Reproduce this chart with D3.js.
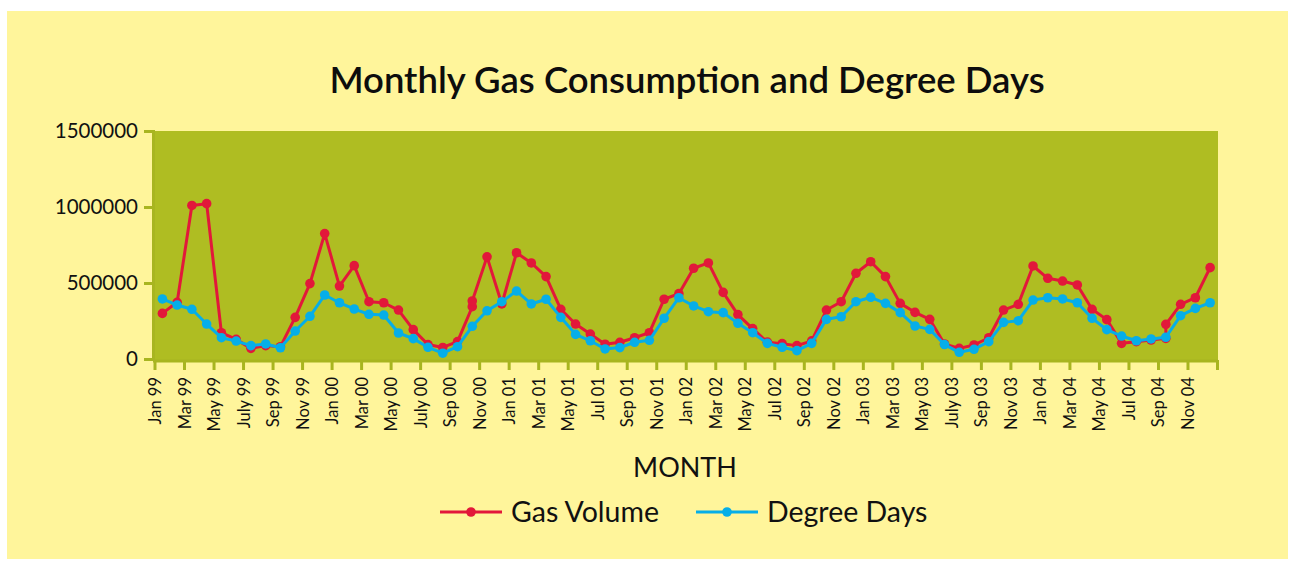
<!DOCTYPE html>
<html>
<head>
<meta charset="utf-8">
<script src="https://cdn.jsdelivr.net/npm/d3@7"></script>
<style>
  body { margin: 0; background: #fff; }
  svg { display: block; }
</style>
</head>
<body>
<svg id="chart" width="1290" height="561"></svg>
<script>
// months on the category axis (Jan 99 .. Dec 04)
var months = [
  "Jan 99","Feb 99","Mar 99","Apr 99","May 99","Jun 99","Jul 99","Aug 99","Sep 99","Oct 99","Nov 99","Dec 99",
  "Jan 00","Feb 00","Mar 00","Apr 00","May 00","Jun 00","Jul 00","Aug 00","Sep 00","Oct 00","Nov 00","Dec 00",
  "Jan 01","Feb 01","Mar 01","Apr 01","May 01","Jun 01","Jul 01","Aug 01","Sep 01","Oct 01","Nov 01","Dec 01",
  "Jan 02","Feb 02","Mar 02","Apr 02","May 02","Jun 02","Jul 02","Aug 02","Sep 02","Oct 02","Nov 02","Dec 02",
  "Jan 03","Feb 03","Mar 03","Apr 03","May 03","Jun 03","Jul 03","Aug 03","Sep 03","Oct 03","Nov 03","Dec 03",
  "Jan 04","Feb 04","Mar 04","Apr 04","May 04","Jun 04","Jul 04","Aug 04","Sep 04","Oct 04","Nov 04","Dec 04"
];

// labels shown under the axis, one every second month
var tickLabels = [
  "Jan 99","Mar 99","May 99","July 99","Sep 99","Nov 99",
  "Jan 00","Mar 00","May 00","July 00","Sep 00","Nov 00",
  "Jan 01","Mar 01","May 01","Jul 01","Sep 01","Nov 01",
  "Jan 02","Mar 02","May 02","Jul 02","Sep 02","Nov 02",
  "Jan 03","Mar 03","May 03","July 03","Sep 03","Nov 03",
  "Jan 04","Mar 04","May 04","Jul 04","Sep 04","Nov 04"
];

// gas volume per month; a pair means two readings were logged that month
var gasVolume = [
  300000, 373000, 1010000, 1022000, 173000, 129000, 70000, 88000, 81000, 274000, 496000, 825000,
  480000, 614000, 377000, 370000, 322000, 193000, 95000, 76000, 114000, [344000, 382000], 672000, 362000,
  699000, 632000, 542000, 327000, 230000, 164000, 97000, 110000, 140000, 173000, 393000, 430000,
  597000, 632000, 438000, 292000, 200000, 111000, 101000, 88000, 119000, 322000, 377000, 564000,
  640000, 542000, 366000, 307000, 261000, 99000, 70000, 92000, 140000, 322000, 360000, 612000,
  531000, 513000, 487000, 327000, 259000, 103000, 114000, 125000, [136000, 228000], 360000, 403000, 601000
];

var degreeDays = [
  395000, 355000, 327000, 230000, 140000, 118000, 88000, 99000, 74000, 184000, 281000, 421000,
  370000, 329000, 294000, 289000, 171000, 134000, 77000, 38000, 81000, 215000, 317000, 377000,
  447000, 362000, 393000, 274000, 162000, 120000, 66000, 75000, 110000, 123000, 268000, 403000,
  349000, 311000, 305000, 235000, 173000, 103000, 77000, 55000, 103000, 261000, 278000, 377000,
  406000, 366000, 305000, 217000, 195000, 95000, 44000, 64000, 114000, 241000, 252000, 388000,
  403000, 395000, 370000, 268000, 193000, 151000, 120000, 132000, 143000, 285000, 333000, 370000
];

var yTicks = [0, 500000, 1000000, 1500000];

var RED = "#e2183a", BLUE = "#06aee8", GREEN = "#afbd22", PANEL = "#fff59b", AXIS = "#a8b520";
var FONT = "Lato, sans-serif";

var svg = d3.select("#chart");

svg.append("rect")
    .attr("x", 7).attr("y", 11)
    .attr("width", 1281).attr("height", 548)
    .attr("fill", PANEL);

var plot = { left: 153, right: 1218, top: 131, bottom: 360 };

var x = d3.scaleBand()
    .domain(months)
    .range([155, 1217.5])
    .padding(0);

var y = d3.scaleLinear()
    .domain([0, 1500000])
    .range([359, plot.top]);

function cx(m) { return x(m) + x.bandwidth() / 2; }

// plot background
svg.append("rect")
    .attr("x", plot.left).attr("y", plot.top)
    .attr("width", plot.right - plot.left)
    .attr("height", plot.bottom - plot.top)
    .attr("fill", GREEN);

// title
svg.append("text")
    .attr("x", 687).attr("y", 93)
    .attr("text-anchor", "middle")
    .style("font-family", FONT)
    .style("font-weight", "600")
    .style("font-size", "36.5px")
    .attr("fill", "#0d0d0d")
    .text("Monthly Gas Consumption and Degree Days");

// y axis
var yAxis = d3.axisLeft(y)
    .tickValues(yTicks)
    .tickFormat(d3.format("d"))
    .tickSize(9)
    .tickPadding(6);

var gy = svg.append("g")
    .attr("transform", "translate(" + plot.left + ",0)")
    .call(yAxis);
gy.select(".domain").attr("stroke", AXIS).attr("stroke-width", 3);
gy.selectAll(".tick line").attr("stroke", AXIS).attr("stroke-width", 3);
gy.selectAll(".tick text")
    .style("font-family", FONT)
    .style("font-size", "20.5px")
    .attr("fill", "#111");

// x axis: ticks at the start of every second month, labels under them
var tickMonths = months.filter(function(d, i) { return i % 2 === 0; });
var gx = svg.append("g");
gx.append("line")
    .attr("x1", plot.left).attr("x2", plot.right)
    .attr("y1", plot.bottom + 1).attr("y2", plot.bottom + 1)
    .attr("stroke", AXIS).attr("stroke-width", 3);
gx.selectAll("line.tick")
    .data(tickMonths.concat(["end"]))
    .enter().append("line")
    .attr("class", "tick")
    .attr("x1", function(d) { return d === "end" ? x.range()[1] : x(d); })
    .attr("x2", function(d) { return d === "end" ? x.range()[1] : x(d); })
    .attr("y1", plot.bottom).attr("y2", plot.bottom + 10)
    .attr("stroke", AXIS).attr("stroke-width", 3);
gx.selectAll("text")
    .data(tickMonths)
    .enter().append("text")
    .attr("transform", function(d) { return "translate(" + (x(d) + 6) + ",377) rotate(-90)"; })
    .attr("text-anchor", "end")
    .style("font-family", FONT)
    .style("font-size", "16.5px")
    .attr("fill", "#111")
    .text(function(d, i) { return tickLabels[i]; });

// axis title
svg.append("text")
    .attr("x", 685).attr("y", 477)
    .attr("text-anchor", "middle")
    .style("font-family", FONT)
    .style("font-size", "27px")
    .attr("fill", "#111")
    .text("MONTH");

// flatten gas readings into points (months with two readings get two points)
var gasPoints = [];
gasVolume.forEach(function(v, i) {
    [].concat(v).forEach(function(val) { gasPoints.push([months[i], val]); });
});
var ddPoints = degreeDays.map(function(v, i) { return [months[i], v]; });

var line = d3.line()
    .x(function(d) { return cx(d[0]); })
    .y(function(d) { return y(d[1]); });

function drawSeries(points, color) {
    svg.append("path")
        .datum(points)
        .attr("d", line)
        .attr("fill", "none")
        .attr("stroke", color)
        .attr("stroke-width", 3)
        .attr("stroke-linejoin", "round");
    svg.append("g").selectAll("circle")
        .data(points)
        .enter().append("circle")
        .attr("cx", function(d) { return cx(d[0]); })
        .attr("cy", function(d) { return y(d[1]); })
        .attr("r", 4.8)
        .attr("fill", color);
}
drawSeries(gasPoints, RED);
drawSeries(ddPoints, BLUE);

// legend
var legend = [
    { name: "Gas Volume", color: RED, x: 440 },
    { name: "Degree Days", color: BLUE, x: 696 }
];
var lg = svg.append("g").selectAll("g")
    .data(legend)
    .enter().append("g")
    .attr("transform", function(d) { return "translate(" + d.x + ",512)"; });
lg.append("line")
    .attr("x1", 0).attr("x2", 62)
    .attr("stroke", function(d) { return d.color; })
    .attr("stroke-width", 3);
lg.append("circle")
    .attr("cx", 31).attr("r", 4.8)
    .attr("fill", function(d) { return d.color; });
lg.append("text")
    .attr("x", 71).attr("y", 10)
    .style("font-family", FONT)
    .style("font-size", "28.5px")
    .attr("fill", "#111")
    .text(function(d) { return d.name; });
</script>
</body>
</html>
